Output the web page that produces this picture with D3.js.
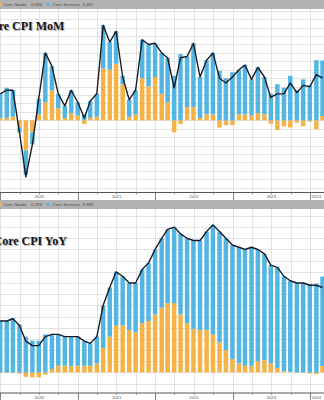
<!DOCTYPE html>
<html>
<head>
<meta charset="utf-8">
<script src="https://cdn.jsdelivr.net/npm/d3@7"></script>
<style>
  html, body { margin: 0; padding: 0; background: #fff; overflow: hidden; }
  svg { display: block; }
</style>
</head>
<body>
<svg id="chart" width="324" height="400"></svg>
<script>
// Monthly observations, Dec 2019 – Feb 2024
const months = [
  "2019-12",
  "2020-01","2020-02","2020-03","2020-04","2020-05","2020-06","2020-07","2020-08","2020-09","2020-10","2020-11","2020-12",
  "2021-01","2021-02","2021-03","2021-04","2021-05","2021-06","2021-07","2021-08","2021-09","2021-10","2021-11","2021-12",
  "2022-01","2022-02","2022-03","2022-04","2022-05","2022-06","2022-07","2022-08","2022-09","2022-10","2022-11","2022-12",
  "2023-01","2023-02","2023-03","2023-04","2023-05","2023-06","2023-07","2023-08","2023-09","2023-10","2023-11","2023-12",
  "2024-01","2024-02"
];

// Month-over-month: contributions (pp) and headline core CPI MoM (%)
const momGoods = [
  0.02,
  0.02, 0.03, -0.06, -0.25, -0.10, 0.05, 0.15, 0.25, 0.10, 0.02, 0.06, 0.04,
  -0.03, 0.02, 0.03, 0.43, 0.42, 0.47, 0.30, 0.03, 0.05, 0.35, 0.28, 0.36,
  0.22, 0.15, -0.10, -0.03, 0.11, 0.11, 0.02, 0.05, 0.05, -0.06, -0.04, -0.04,
  0.05, 0.05, 0.04, 0.06, 0.05, -0.03, -0.08, -0.05, -0.06, -0.02, -0.05, -0.01,
  -0.075, 0.036
];
const momServices = [
  0.20,
  0.25, 0.22, -0.04, -0.20, -0.10, 0.13, 0.41, 0.20, 0.12, 0.10, 0.19, 0.11,
  0.05, 0.14, 0.19, 0.36, 0.23, 0.27, 0.07, 0.14, 0.20, 0.32, 0.35, 0.28,
  0.34, 0.37, 0.37, 0.55, 0.42, 0.53, 0.34, 0.45, 0.51, 0.41, 0.35, 0.40,
  0.37, 0.41, 0.30, 0.38, 0.31, 0.22, 0.30, 0.27, 0.37, 0.25, 0.34, 0.29,
  0.50, 0.461
];
const momCore = [
  0.22,
  0.25, 0.25, -0.10, -0.47, -0.20, 0.18, 0.56, 0.45, 0.22, 0.12, 0.25, 0.15,
  0.02, 0.16, 0.22, 0.79, 0.65, 0.74, 0.36, 0.17, 0.25, 0.67, 0.63, 0.64,
  0.56, 0.52, 0.27, 0.52, 0.53, 0.64, 0.36, 0.50, 0.56, 0.35, 0.31, 0.36,
  0.42, 0.46, 0.34, 0.44, 0.36, 0.19, 0.22, 0.22, 0.31, 0.23, 0.29, 0.28,
  0.38, 0.35
];

// Year-over-year: contributions (pp) and headline core CPI YoY (%)
const yoyGoods = [
  -0.03,
  -0.02, -0.03, -0.05, -0.20, -0.22, -0.22, -0.10, 0.15, 0.30, 0.30, 0.28, 0.30,
  0.30, 0.30, 0.40, 1.10, 1.60, 2.10, 2.10, 1.90, 1.80, 2.20, 2.30, 2.60,
  2.90, 3.10, 3.10, 2.60, 2.20, 1.95, 1.90, 1.90, 1.70, 1.35, 1.00, 0.60,
  0.40, 0.30, 0.30, 0.50, 0.55, 0.40, 0.20, 0.05, 0.03, 0.00, -0.02, -0.05,
  -0.07, 0.293
];
const yoyServices = [
  2.33,
  2.32, 2.43, 2.15, 1.60, 1.42, 1.42, 1.70, 1.55, 1.40, 1.30, 1.32, 1.30,
  1.10, 1.00, 1.20, 1.90, 2.20, 2.40, 2.20, 2.10, 2.20, 2.40, 2.60, 2.90,
  3.10, 3.30, 3.40, 3.60, 3.80, 3.95, 4.00, 4.40, 4.90, 4.95, 5.00, 5.10,
  5.20, 5.20, 5.30, 5.00, 4.75, 4.40, 4.50, 4.25, 4.07, 4.00, 4.02, 3.95,
  3.97, 3.993
];
const yoyCore = [
  2.3,
  2.3, 2.4, 2.1, 1.4, 1.2, 1.2, 1.6, 1.7, 1.7, 1.6, 1.6, 1.6,
  1.4, 1.3, 1.6, 3.0, 3.8, 4.5, 4.3, 4.0, 4.0, 4.6, 4.9, 5.5,
  6.0, 6.4, 6.5, 6.2, 6.0, 5.9, 5.9, 6.3, 6.6, 6.3, 6.0, 5.7,
  5.6, 5.5, 5.6, 5.5, 5.3, 4.8, 4.7, 4.3, 4.1, 4.0, 4.0, 3.9,
  3.9, 3.8
];

const yearLabels = ["2020", "2021", "2022", "2023", "2024"];
const seriesNames = ["Core Goods", "Core Services"];
const titles = ["Core CPI MoM", "Core CPI YoY"];

const W = 324;
const colors = { goods: "#f5b246", services: "#52b5e2", line: "#1c1c28" };

const svg = d3.select("#chart");
const parseMonth = d3.timeParse("%Y-%m");
// each observation sits at the end of its month
const dates = months.map(m => d3.timeDay.offset(d3.timeMonth.offset(parseMonth(m), 1), -1));

const x = d3.scaleTime()
  .domain([new Date(2020, 0, 1), new Date(2024, 0, 1)])
  .range([0.4, 310]);

const monthW = x(new Date(2020, 1, 1)) - x(new Date(2020, 0, 1));
const barW = monthW * 0.68;

const quarters = d3.timeMonth.every(3).range(new Date(2019, 9, 1), new Date(2024, 3, 2));
const yearStarts = d3.timeYear.range(new Date(2020, 0, 1), new Date(2024, 0, 2));

const panels = [
  {
    goods: momGoods, services: momServices, core: momCore, title: titles[0],
    headTop: 0, plotTop: 9, plotBottom: 192.5, axisBottom: 200,
    domain: [-0.6, 0.925], gridStep: 0.07,
    titleX: -16, titleY: 30
  },
  {
    goods: yoyGoods, services: yoyServices, core: yoyCore, title: titles[1],
    headTop: 200, plotTop: 209, plotBottom: 393, axisBottom: 400,
    domain: [-0.92, 7.31], gridStep: 0.5,
    titleX: -6.5, titleY: 245
  }
];

const fmt = d3.format(".3f");

panels.forEach((p, pi) => {
  const g = svg.append("g");
  const y = d3.scaleLinear().domain(p.domain).range([p.plotBottom, p.plotTop]);

  // plot background
  g.append("rect").attr("x", 0).attr("y", p.plotTop).attr("width", W)
    .attr("height", p.plotBottom - p.plotTop).attr("fill", "#fff");

  // horizontal grid
  const gridVals = d3.range(Math.ceil(p.domain[0] / p.gridStep), Math.floor(p.domain[1] / p.gridStep) + 1)
    .map(k => k * p.gridStep);
  g.append("g").selectAll("line").data(gridVals).join("line")
    .attr("x1", 0).attr("x2", W)
    .attr("y1", d => Math.round(y(d)) + 0.5).attr("y2", d => Math.round(y(d)) + 0.5)
    .attr("stroke", "#dcdcdc").attr("stroke-width", 0.8);

  // vertical quarterly grid
  g.append("g").selectAll("line").data(quarters).join("line")
    .attr("x1", d => Math.round(x(d)) + 0.5).attr("x2", d => Math.round(x(d)) + 0.5)
    .attr("y1", p.plotTop).attr("y2", p.plotBottom)
    .attr("stroke", "#dcdcdc").attr("stroke-width", 0.8);

  // stacked diverging bars
  const rows = dates.map((d, i) => ({ date: d, goods: p.goods[i], services: p.services[i] }));
  const stacked = d3.stack().keys(["goods", "services"]).offset(d3.stackOffsetDiverging)(rows);

  const clipId = "clip" + pi;
  g.append("clipPath").attr("id", clipId).append("rect")
    .attr("x", 0).attr("y", p.plotTop).attr("width", W).attr("height", p.plotBottom - p.plotTop);

  const bars = g.append("g").attr("clip-path", `url(#${clipId})`);
  bars.selectAll("g").data(stacked).join("g")
    .attr("fill", d => colors[d.key])
    .selectAll("rect").data(d => d).join("rect")
    .attr("x", d => x(d.data.date) - barW / 2)
    .attr("width", barW)
    .attr("y", d => y(Math.max(d[0], d[1])))
    .attr("height", d => Math.abs(y(d[0]) - y(d[1])));

  // core CPI line
  const line = d3.line()
    .x((d, i) => x(dates[i]))
    .y(d => y(d))
    .curve(d3.curveLinear);
  bars.append("path").datum(p.core)
    .attr("d", line)
    .attr("fill", "none")
    .attr("stroke", colors.line)
    .attr("stroke-width", 1.4)
    .attr("stroke-linejoin", "round");

  // title with soft shadow
  const t = g.append("g").attr("font-family", "'Liberation Serif', 'DejaVu Serif', serif")
    .attr("font-weight", "bold").attr("font-size", 12);
  t.append("text").attr("x", p.titleX + 1).attr("y", p.titleY + 1)
    .attr("fill", "#9a9a9a").attr("opacity", 0.7).text(p.title);
  t.append("text").attr("x", p.titleX).attr("y", p.titleY)
    .attr("fill", "#151515").text(p.title);

  // x axis band
  g.append("rect").attr("x", 0).attr("y", p.plotBottom).attr("width", W)
    .attr("height", p.axisBottom - p.plotBottom).attr("fill", "#fff");
  g.append("line").attr("x1", 0).attr("x2", W)
    .attr("y1", p.plotBottom).attr("y2", p.plotBottom)
    .attr("stroke", "#555").attr("stroke-width", 1);
  g.append("g").selectAll("line").data(quarters).join("line")
    .attr("x1", d => Math.round(x(d)) + 0.5).attr("x2", d => Math.round(x(d)) + 0.5)
    .attr("y1", p.plotBottom).attr("y2", p.plotBottom + 2)
    .attr("stroke", "#777").attr("stroke-width", 0.7);
  g.append("g").selectAll("line").data(yearStarts).join("line")
    .attr("x1", d => Math.round(x(d)) + 0.5).attr("x2", d => Math.round(x(d)) + 0.5)
    .attr("y1", p.plotBottom).attr("y2", p.axisBottom)
    .attr("stroke", "#666").attr("stroke-width", 0.8);

  const labelX = (label) => {
    const yr = +label;
    const a = x(new Date(yr, 0, 1));
    const b = yr === 2024 ? x(new Date(2024, 2, 1)) : x(new Date(yr + 1, 0, 1));
    return (a + b) / 2;
  };
  g.append("g").selectAll("text").data(yearLabels).join("text")
    .attr("x", d => labelX(d))
    .attr("y", p.plotBottom + 5.5)
    .attr("text-anchor", "middle")
    .attr("font-family", "'Liberation Sans', Arial, sans-serif")
    .attr("font-size", 4.2)
    .attr("fill", "#555")
    .text(d => d);

  // legend header
  const head = g.append("g");
  head.append("rect").attr("x", 0).attr("y", p.headTop).attr("width", W).attr("height", 9)
    .attr("fill", "#b2b2b2");
  const ly = p.headTop + 6.2;
  const items = [
    { name: seriesNames[0], color: colors.goods, value: fmt(p.goods[p.goods.length - 1]), sx: -1.5, tx: 3, vx: 31 },
    { name: seriesNames[1], color: colors.services, value: fmt(p.services[p.services.length - 1]), sx: 46.5, tx: 52.5, vx: 82.5 }
  ];
  items.forEach(it => {
    head.append("rect").attr("x", it.sx).attr("y", p.headTop + 3).attr("width", 3).attr("height", 3)
      .attr("fill", it.color);
    head.append("text").attr("x", it.tx).attr("y", ly)
      .attr("font-family", "'Liberation Sans', Arial, sans-serif").attr("font-size", 4.4)
      .attr("fill", "#4a4a4a").text(it.name);
    head.append("text").attr("x", it.vx).attr("y", ly)
      .attr("font-family", "'Liberation Sans', Arial, sans-serif").attr("font-size", 4.4)
      .attr("fill", "#4a4a4a").text(it.value);
  });
});
</script>
</body>
</html>
